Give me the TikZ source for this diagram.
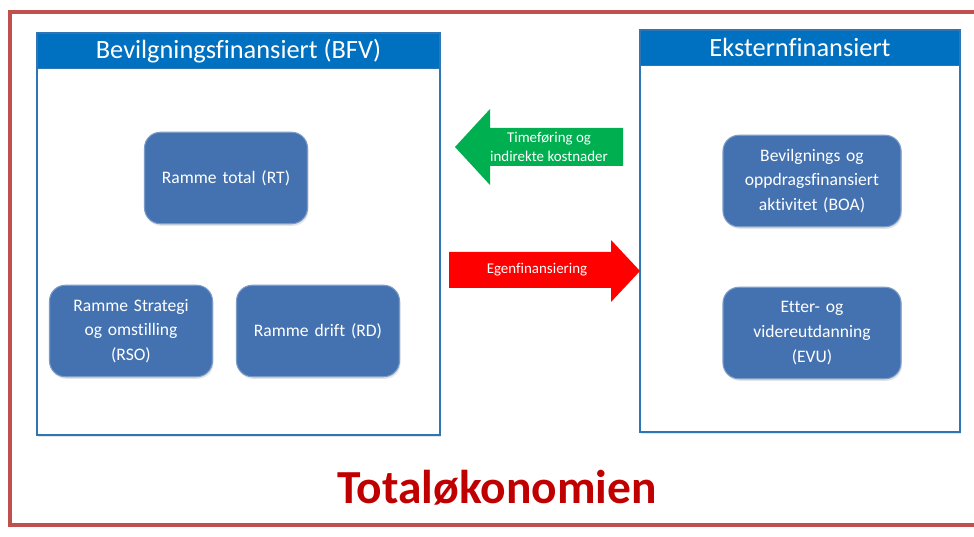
\documentclass[tikz,border=0pt]{standalone}
\usepackage{fontspec}
\setmainfont{Carlito}[Ligatures={NoCommon}]
\usepackage{tikz}
\usetikzlibrary{shapes,arrows.meta,positioning,calc,shadows}
\usepackage{xcolor}
\definecolor{rammered}{RGB}{192,80,77}
\definecolor{headblue}{RGB}{0,112,192}
\definecolor{panelline}{RGB}{46,117,182}
\definecolor{boxblue}{RGB}{68,114,176}
\definecolor{pilgreen}{RGB}{0,176,80}
\definecolor{pilred}{RGB}{255,0,0}
\definecolor{titlered}{RGB}{192,0,0}

\begin{document}
\begin{tikzpicture}[
    panel/.style={rectangle, draw=panelline, fill=white, line width=0.8pt, minimum width=#1, minimum height=8.04cm, drop shadow={opacity=0.2, shadow xshift=0.6pt, shadow yshift=-1.2pt}},
    head/.style={rectangle, draw=panelline, fill=headblue, line width=0.8pt, minimum width=#1, minimum height=0.71cm, inner sep=0pt, text=white, font=\fontsize{15}{18}\selectfont},
    box/.style={rectangle, rounded corners=9pt, draw=boxblue!70!white, fill=boxblue, line width=0.6pt, minimum width=#1, minimum height=1.83cm, text width=#1-0.3cm, align=center, text=white, font=\fontsize{10}{14}\selectfont, drop shadow={opacity=0.2, shadow xshift=0.6pt, shadow yshift=-1.2pt}},
    piltext/.style={text=white, align=center, font=\fontsize{8.5}{10.5}\selectfont},
    >=Stealth
]
    \useasboundingbox (0,0) rectangle (19.48,10.74);
    % ytre ramme
    \draw[rammered, line width=2.2pt] (0.2,0.24) rectangle (19.7,10.5);

    % paneler
    \node[panel=8.06cm] (bfv) at (4.77,6.06) {};
    \node[head=8.06cm, anchor=north] (bfvhead) at (bfv.north) {Bevilgningsfinansiert (BFV)};
    \node[panel=6.4cm] (ekst) at (16.0,6.12) {};
    \node[head=6.4cm, anchor=north] (eksthead) at (ekst.north) {Eksternfinansiert};

    % rammer
    \node[box=3.26cm] (rt) at (4.52,7.18) {Ramme total (RT)};
    \node[box=3.26cm] (rso) at (2.62,4.12) {Ramme Strategi\\og omstilling\\(RSO)};
    \node[box=3.26cm] (rd) at (6.36,4.12) {Ramme drift (RD)};

    \node[box=3.56cm] (boa) at (16.24,7.12) {Bevilgnings og\\oppdragsfinansiert\\aktivitet (BOA)};
    \node[box=3.56cm] (evu) at (16.24,4.08) {Etter- og\\videreutdanning\\(EVU)};

    % piler
    \fill[pilgreen] (9.1,7.8) -- (9.8,8.56) -- (9.8,8.18) -- (12.46,8.18) -- (12.46,7.42) -- (9.8,7.42) -- (9.8,7.04) -- cycle;
    \node[piltext] (time) at (10.98,7.8) {Timeføring og\\indirekte kostnader};
    \fill[pilred] (12.8,5.32) -- (12.22,5.94) -- (12.22,5.7) -- (8.98,5.7) -- (8.98,4.98) -- (12.22,4.98) -- (12.22,4.7) -- cycle;
    \node[piltext] (egen) at (10.74,5.34) {Egenfinansiering};

    \node[text=titlered, font=\fontsize{27}{32}\selectfont\bfseries] (total) at (9.94,0.98) {Totaløkonomien};
\end{tikzpicture}
\end{document}
